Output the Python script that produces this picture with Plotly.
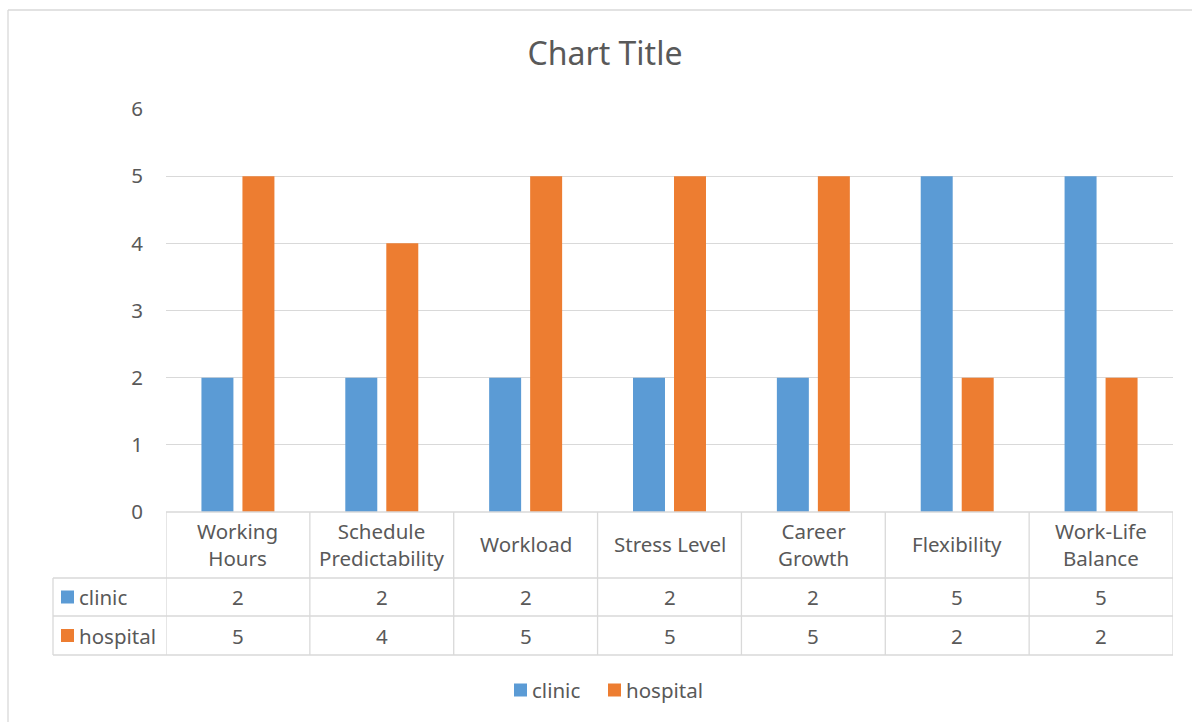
import plotly.graph_objects as go

categories = ["Working Hours", "Schedule Predictability", "Workload", "Stress Level",
              "Career Growth", "Flexibility", "Work-Life Balance"]
category_labels = ["Working<br>Hours", "Schedule<br>Predictability", "Workload", "Stress Level",
                   "Career<br>Growth", "Flexibility", "Work-Life<br>Balance"]
clinic = [2, 2, 2, 2, 2, 5, 5]
hospital = [5, 4, 5, 5, 5, 2, 2]
series_names = ["clinic", "hospital"]
y_ticks = [0, 1, 2, 3, 4, 5, 6]

W, H = 1192, 722
L, R, T, B = 166, 1173, 109, 512
PW, PH = R - L, B - T

def px(x):
    return (x - L) / PW

def py(y):
    return (B - y) / PH

BLUE = "#5B9BD5"
ORANGE = "#ED7D31"
GRID = "#D9D9D9"
TXT = "#595959"
FONT = "Noto Sans, sans-serif"
FS = 20.5

fig = go.Figure()
fig.add_trace(go.Bar(x=categories, y=clinic, name=series_names[0], marker_color=BLUE,
                     marker_line_width=0))
fig.add_trace(go.Bar(x=categories, y=hospital, name=series_names[1], marker_color=ORANGE,
                     marker_line_width=0))

shapes = []
def line(x0, y0, x1, y1, xref="paper"):
    shapes.append(dict(type="line", xref=xref, yref="paper", x0=x0, x1=x1,
                       y0=y0, y1=y1, line=dict(color=GRID, width=1.3), layer="above"))

# outer chart border
line(px(8), py(10), px(W + 5), py(10))
line(px(8), py(10), px(8), py(H + 5))

# table lines
r0, r1, r2, r3 = 512, 578, 616, 655
line(0, py(r0), 1, py(r0))
for yy in (r1, r2, r3):
    line(px(53), py(yy), 1, py(yy))
line(px(53), py(r1), px(53), py(r3))
n = len(categories)
for i in range(n + 1):
    line(i - 0.5, py(r0), i - 0.5, py(r3), xref="x")

annotations = []
def text(x, y, s, xref="paper", xanchor="center"):
    annotations.append(dict(x=x, xref=xref, y=y, yref="paper", text=s, showarrow=False,
                            font=dict(size=FS, color=TXT, family=FONT),
                            xanchor=xanchor, yanchor="middle"))

for i, lab in enumerate(category_labels):
    text(i, py((r0 + r1) / 2 - 1), lab, xref="x")

def square(x0, yc, col):
    shapes.append(dict(type="rect", xref="paper", yref="paper", x0=px(x0), x1=px(x0 + 13),
                       y0=py(yc - 6.5), y1=py(yc + 6.5), fillcolor=col, line=dict(width=0)))

for vals, yc, col, nm in ((clinic, (r1 + r2) / 2, BLUE, series_names[0]),
                          (hospital, (r2 + r3) / 2, ORANGE, series_names[1])):
    for i, v in enumerate(vals):
        text(i, py(yc), str(v), xref="x")
    square(61, yc, col)
    text(px(77), py(yc), nm, xanchor="left")

# bottom legend
leg_y = 690
square(514, leg_y, BLUE)
text(px(530), py(leg_y), series_names[0], xanchor="left")
square(608, leg_y, ORANGE)
text(px(624), py(leg_y), series_names[1], xanchor="left")

fig.update_layout(
    width=W, height=H,
    margin=dict(l=L, r=W - R, t=T, b=H - B, pad=0),
    paper_bgcolor="white", plot_bgcolor="white",
    barmode="group", bargap=0.43, bargroupgap=0.22,
    showlegend=False,
    title=dict(text="Chart Title", xref="container", x=605 / W, xanchor="center",
               y=1 - 54 / H, yanchor="middle",
               font=dict(size=32, color=TXT, family=FONT)),
    xaxis=dict(showticklabels=False, showgrid=False, zeroline=False, showline=False,
               range=[-0.5, n - 0.5], fixedrange=True),
    yaxis=dict(range=[0, 6], tickvals=y_ticks, showgrid=True, gridcolor=GRID, gridwidth=1.3,
               zeroline=False, showline=False, ticklabelstandoff=22,
               tickfont=dict(size=FS, color=TXT, family=FONT)),
    shapes=shapes, annotations=annotations,
    font=dict(family=FONT, color=TXT),
)

fig.write_html("out.html")
